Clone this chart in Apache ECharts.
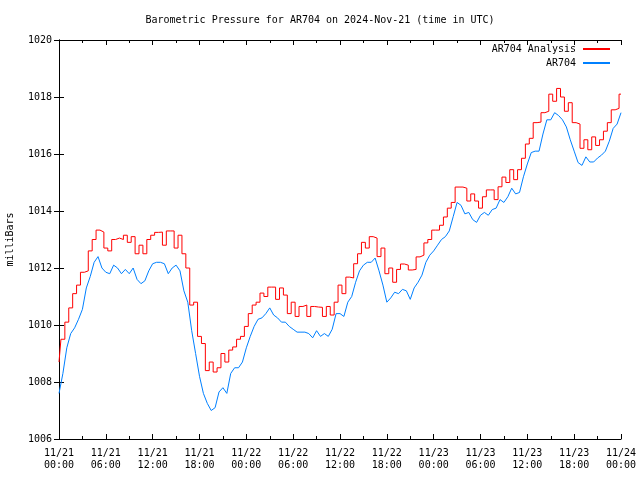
<!DOCTYPE html>
<html>
<head>
<meta charset="utf-8">
<script src="https://cdn.jsdelivr.net/npm/echarts@6/dist/echarts.min.js"></script>
<style>html,body{margin:0;padding:0;background:#fff}#c{width:640px;height:480px}</style>
</head>
<body>
<div id="c"></div>
<script>
// Time step between samples (hours), from 2024-11-21 00:00 UTC
const stepHours = 0.5;
const tickLabels = ['11/21\n00:00','11/21\n06:00','11/21\n12:00','11/21\n18:00',
  '11/22\n00:00','11/22\n06:00','11/22\n12:00','11/22\n18:00',
  '11/23\n00:00','11/23\n06:00','11/23\n12:00','11/23\n18:00','11/24\n00:00'];
const seriesNames = ['AR704 Analysis', 'AR704'];
// AR704 Analysis (red), every 30 min
const analysis = [
  1008.7,1009.5,1010.1,1010.6,1011.1,1011.4,1011.85,1011.9,1012.6,1013.0,1013.33,1013.26,
  1012.7,1012.6,1013.0,1013.05,1013.0,1013.15,1012.9,1013.1,1012.5,1012.8,1012.5,1013.0,
  1013.15,1013.25,1013.26,1012.8,1013.3,1013.3,1012.7,1013.15,1012.5,1012.0,1010.7,1010.8,
  1009.6,1009.35,1008.4,1008.7,1008.35,1008.5,1009.0,1008.7,1009.12,1009.23,1009.5,1009.6,
  1009.95,1010.4,1010.7,1010.8,1011.12,1011.0,1011.33,1011.33,1010.9,1011.3,1011.05,1010.4,
  1010.8,1010.3,1010.65,1010.7,1010.3,1010.65,1010.63,1010.62,1010.3,1010.65,1010.35,1010.8,
  1011.4,1011.1,1011.68,1011.65,1012.15,1012.5,1012.9,1012.7,1013.1,1013.05,1012.4,1012.7,
  1011.8,1012.0,1011.5,1011.95,1012.14,1012.1,1011.93,1011.95,1012.39,1012.45,1012.88,1013.0,
  1013.33,1013.33,1013.5,1013.79,1014.1,1014.3,1014.84,1014.84,1014.8,1014.35,1014.6,1014.35,
  1014.1,1014.5,1014.74,1014.74,1014.4,1014.85,1015.19,1015.0,1015.45,1015.1,1015.45,1015.85,
  1016.35,1016.55,1017.1,1017.12,1017.45,1017.5,1018.1,1017.85,1018.3,1018.0,1017.5,1017.8,
  1017.1,1017.05,1016.2,1016.5,1016.15,1016.6,1016.3,1016.5,1016.8,1017.1,1017.55,1017.6,
  1018.1
];
// AR704 observed (blue), every 30 min
const observed = [
  1007.6,1008.3,1009.2,1009.7,1009.9,1010.2,1010.55,1011.3,1011.7,1012.2,1012.4,1012.0,
  1011.85,1011.8,1012.1,1012.0,1011.8,1011.95,1011.8,1012.0,1011.6,1011.45,1011.55,1011.9,
  1012.15,1012.2,1012.2,1012.15,1011.8,1012.0,1012.1,1011.9,1011.2,1010.8,1009.8,1009.0,
  1008.2,1007.6,1007.25,1007.0,1007.1,1007.65,1007.8,1007.6,1008.3,1008.5,1008.5,1008.7,
  1009.2,1009.6,1009.95,1010.2,1010.25,1010.4,1010.6,1010.35,1010.25,1010.1,1010.1,1009.95,
  1009.85,1009.75,1009.75,1009.75,1009.7,1009.55,1009.8,1009.6,1009.7,1009.6,1009.85,1010.4,
  1010.4,1010.3,1010.8,1011.0,1011.5,1011.9,1012.1,1012.2,1012.2,1012.35,1011.9,1011.4,
  1010.8,1010.95,1011.15,1011.1,1011.25,1011.2,1010.9,1011.3,1011.5,1011.75,1012.2,1012.45,
  1012.6,1012.8,1013.0,1013.1,1013.3,1013.8,1014.3,1014.2,1013.9,1013.95,1013.7,1013.6,
  1013.85,1013.95,1013.85,1014.05,1014.1,1014.4,1014.3,1014.5,1014.8,1014.6,1014.65,1015.2,
  1015.65,1016.05,1016.1,1016.1,1016.7,1017.2,1017.2,1017.45,1017.35,1017.2,1016.95,1016.5,
  1016.1,1015.7,1015.6,1015.9,1015.72,1015.72,1015.86,1015.96,1016.1,1016.45,1016.9,1017.05,
  1017.45
];

const font = 'DejaVu Sans Mono';
const chart = echarts.init(document.getElementById('c'), null, {renderer: 'canvas'});
const axisLine = {show: true, lineStyle: {color: '#000', width: 1}};
const xCommon = {
  type: 'value', min: 0, max: 72, interval: 6,
  axisLine: axisLine,
  axisTick: {show: true, inside: true, length: 5, lineStyle: {color: '#000'}},
  minorTick: {show: true, splitNumber: 2, length: 3, lineStyle: {color: '#000'}},
  splitLine: {show: false}
};
const yCommon = {
  type: 'value', min: 1006, max: 1020, interval: 2,
  axisLine: axisLine,
  axisTick: {show: true, inside: true, length: 5, lineStyle: {color: '#000'}},
  splitLine: {show: false}
};
chart.setOption({
  animation: false,
  backgroundColor: '#fff',
  title: {
    text: 'Barometric Pressure for AR704 on 2024-Nov-21 (time in UTC)',
    left: 'center', top: 10,
    textStyle: {fontFamily: font, fontSize: 10, fontWeight: 'normal', color: '#000'}
  },
  legend: {
    data: seriesNames, orient: 'vertical', right: 30, top: 44, align: 'right',
    itemWidth: 27, itemHeight: 2, itemGap: 4, icon: 'rect', padding: 0,
    textStyle: {fontFamily: font, fontSize: 10, color: '#000', padding: [0, 2, 0, 0]}
  },
  grid: {left: 59, right: 19, top: 40, bottom: 41, containLabel: false, outerBoundsMode: 'none'},
  xAxis: [
    Object.assign({}, xCommon, {
      position: 'bottom',
      axisLabel: {fontFamily: font, fontSize: 10, color: '#000', margin: 8, lineHeight: 12,
        formatter: v => tickLabels[Math.round(v / 6)] || ''}
    }),
    Object.assign({}, xCommon, {position: 'top', axisLabel: {show: false}})
  ],
  yAxis: [
    Object.assign({}, yCommon, {
      position: 'left',
      name: 'milliBars', nameLocation: 'middle', nameRotate: 90, nameGap: 44,
      nameTextStyle: {fontFamily: font, fontSize: 10, color: '#000'},
      axisLabel: {fontFamily: font, fontSize: 10, color: '#000', margin: 7,
        formatter: v => String(v)}
    }),
    Object.assign({}, yCommon, {position: 'right', axisLabel: {show: false}})
  ],
  series: [
    {name: seriesNames[0], type: 'line', symbol: 'none', color: '#ff0000', step: 'middle',
     lineStyle: {width: 1, color: '#ff0000'}, xAxisIndex: 0, yAxisIndex: 0,
     data: analysis.map((v, i) => [i * stepHours, v])},
    {name: seriesNames[1], type: 'line', symbol: 'none', color: '#0080ff',
     lineStyle: {width: 1, color: '#0080ff'}, xAxisIndex: 0, yAxisIndex: 0,
     data: observed.map((v, i) => [i * stepHours, v])}
  ]
});
</script>
</body>
</html>
